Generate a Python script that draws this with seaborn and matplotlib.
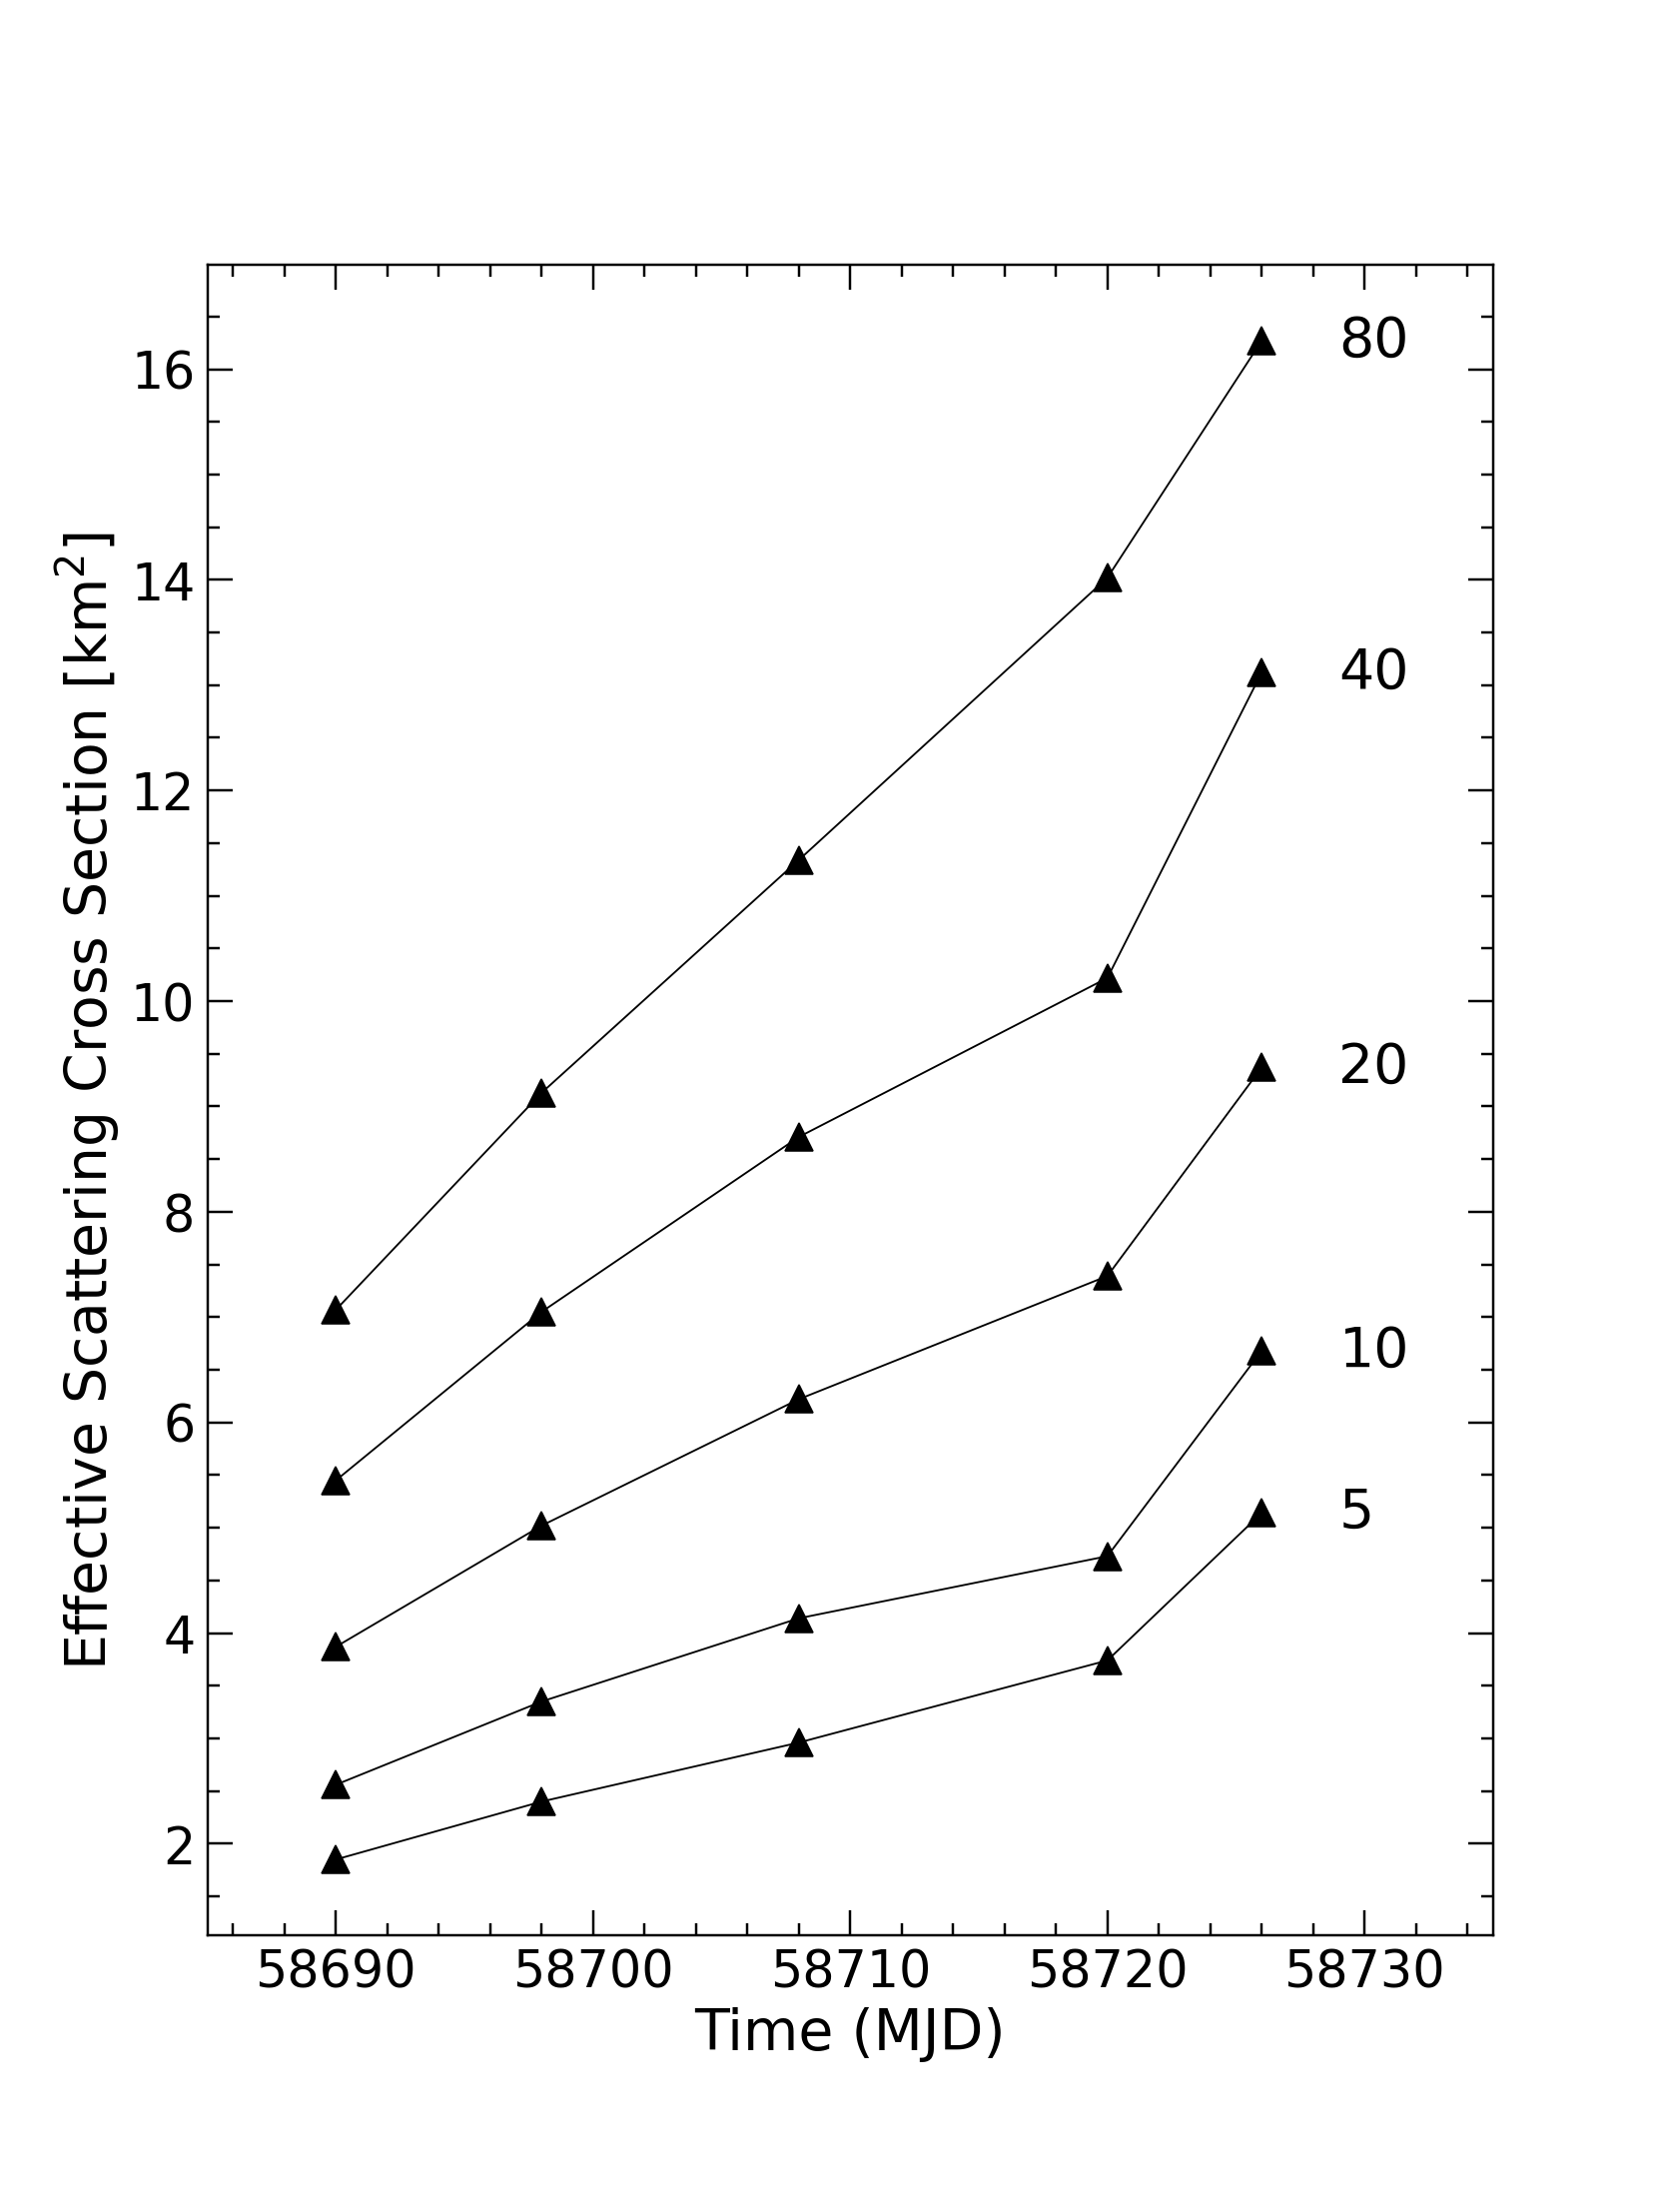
import numpy as np
import pandas as pd
import matplotlib
matplotlib.use('Agg')
import matplotlib.pyplot as plt
from matplotlib.ticker import MultipleLocator
import seaborn as sns

# Observation epochs (MJD)
time_mjd = [58690, 58698, 58708, 58720, 58726]

# Effective scattering cross section [km^2] for each curve label
sigma_5 = [1.85, 2.40, 2.96, 3.74, 5.14]
sigma_10 = [2.56, 3.35, 4.14, 4.73, 6.68]
sigma_20 = [3.87, 5.02, 6.22, 7.39, 9.37]
sigma_40 = [5.45, 7.05, 8.71, 10.22, 13.12]
sigma_80 = [7.07, 9.13, 11.34, 14.02, 16.27]

curve_labels = ['5', '10', '20', '40', '80']
curves = [sigma_5, sigma_10, sigma_20, sigma_40, sigma_80]

# long-form table for seaborn
df = pd.concat([
    pd.DataFrame({'time': time_mjd, 'sigma': vals, 'curve': lab})
    for lab, vals in zip(curve_labels, curves)
], ignore_index=True)

sns.set_style('ticks')
plt.rcParams['font.family'] = ['DejaVu Sans']
plt.rcParams['text.color'] = 'black'
plt.rcParams['axes.labelcolor'] = 'black'

fig = plt.figure(figsize=(7.5, 10), dpi=221.47)
ax = fig.add_axes([0.125, 0.125, 0.775, 0.755])

for lab in curve_labels:
    sub = df[df['curve'] == lab]
    sns.lineplot(data=sub, x='time', y='sigma', ax=ax, color='black',
                 linewidth=0.6, marker='^', markersize=9,
                 markeredgecolor='black', markeredgewidth=0.5, sort=False)
    # label right of the last point
    ax.text(58729, sub['sigma'].iloc[-1], lab, fontsize=18,
            ha='left', va='center', color='black')

ax.set_xlim(58685, 58735)
ax.margins(y=0.05)
ax.xaxis.set_major_locator(MultipleLocator(10))
ax.xaxis.set_minor_locator(MultipleLocator(2))
ax.yaxis.set_major_locator(MultipleLocator(2))
ax.yaxis.set_minor_locator(MultipleLocator(0.5))
ax.ticklabel_format(axis='x', useOffset=False, style='plain')

ax.tick_params(which='both', direction='in', top=True, right=True,
               width=0.8, labelsize=16.5, colors='black')
ax.tick_params(which='major', length=8, pad=4)
ax.tick_params(which='minor', length=4)
for sp in ax.spines.values():
    sp.set_linewidth(0.8)
    sp.set_color('black')

ax.set_xlabel('Time (MJD)', fontsize=18.5, labelpad=3)
ax.set_ylabel('Effective Scattering Cross Section [km$^2$]', fontsize=18.5,
              labelpad=3)

fig.savefig('out.png', dpi=221.47, facecolor='white')
